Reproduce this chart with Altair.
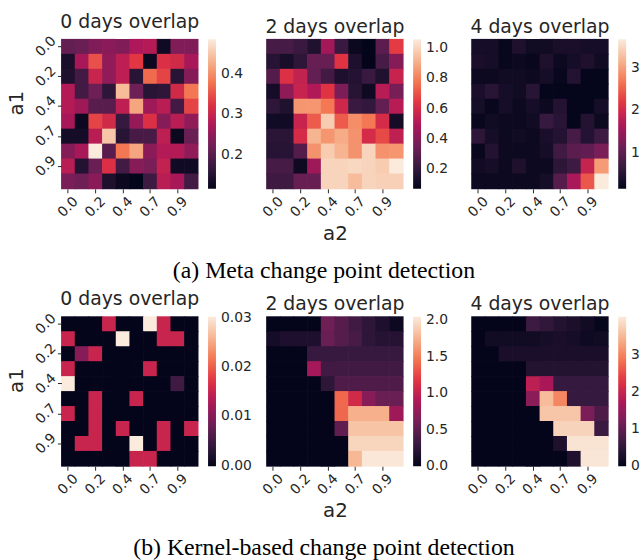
import altair as alt
import numpy as np
import pandas as pd

A_VALUES = ["0.0", "0.1", "0.2", "0.3", "0.4", "0.6", "0.7", "0.8", "0.9", "1.0"]
TICK_LABELS = ["0.0", "0.2", "0.4", "0.7", "0.9"]
ROCKET = ["#03051a", "#35193e", "#701f57", "#ad1759", "#e13342", "#f37651", "#f6b48f", "#faebdd"]

# (a) Meta change point detection
meta_0 = [
    [0.21, 0.215, 0.235, 0.245, 0.235, 0.275, 0.28, 0.13, 0.235, 0.235],
    [0.14, 0.27, 0.35, 0.25, 0.29, 0.33, 0.125, 0.32, 0.31, 0.27],
    [0.145, 0.18, 0.30, 0.25, 0.29, 0.155, 0.37, 0.34, 0.155, 0.24],
    [0.28, 0.18, 0.22, 0.16, 0.44, 0.22, 0.155, 0.16, 0.31, 0.38],
    [0.28, 0.26, 0.20, 0.20, 0.29, 0.42, 0.26, 0.285, 0.18, 0.34],
    [0.27, 0.125, 0.34, 0.31, 0.17, 0.255, 0.32, 0.24, 0.285, 0.25],
    [0.135, 0.135, 0.285, 0.45, 0.155, 0.185, 0.185, 0.29, 0.125, 0.215],
    [0.24, 0.27, 0.485, 0.20, 0.38, 0.42, 0.245, 0.28, 0.28, 0.25],
    [0.285, 0.15, 0.215, 0.32, 0.18, 0.24, 0.23, 0.295, 0.13, 0.13],
    [0.23, 0.22, 0.245, 0.145, 0.125, 0.116, 0.175, 0.285, 0.27, 0.18],
]
meta_2 = [
    [0.25, 0.25, 0.22, 0.15, 0.47, 0.22, 0.09, 0.067, 0.30, 0.65],
    [0.17, 0.13, 0.19, 0.33, 0.33, 0.63, 0.14, 0.07, 0.25, 0.40],
    [0.28, 0.62, 0.55, 0.32, 0.24, 0.14, 0.16, 0.22, 0.15, 0.56],
    [0.12, 0.42, 0.56, 0.50, 0.63, 0.38, 0.17, 0.10, 0.52, 0.37],
    [0.19, 0.15, 0.85, 0.85, 0.78, 0.58, 0.22, 0.20, 0.32, 0.52],
    [0.11, 0.11, 0.56, 0.72, 0.98, 0.72, 0.83, 0.78, 0.60, 0.12],
    [0.18, 0.18, 0.60, 0.92, 0.85, 0.90, 0.84, 0.60, 0.68, 0.54],
    [0.17, 0.17, 0.28, 0.84, 0.98, 0.92, 0.84, 1.00, 0.84, 0.85],
    [0.25, 0.25, 0.10, 0.46, 1.00, 1.00, 1.01, 1.00, 0.98, 1.06],
    [0.23, 0.23, 0.33, 0.33, 1.00, 1.00, 0.94, 1.00, 0.99, 0.99],
]
meta_4 = [
    [0.34, 0.34, 0.20, 0.43, 0.29, 0.29, 0.38, 0.38, 0.34, 0.34],
    [0.38, 0.34, 0.20, 0.24, 0.20, 0.43, 0.24, 0.34, 0.43, 0.29],
    [0.24, 0.24, 0.29, 0.29, 0.24, 0.34, 0.20, 0.47, 0.17, 0.17],
    [0.38, 0.52, 0.34, 0.29, 0.52, 0.17, 0.17, 0.17, 0.17, 0.17],
    [0.34, 0.20, 0.34, 0.24, 0.34, 0.24, 0.47, 0.17, 0.17, 0.34],
    [0.20, 0.29, 0.24, 0.24, 0.29, 0.66, 0.52, 0.17, 0.47, 0.24],
    [0.57, 0.34, 0.24, 0.29, 0.24, 0.38, 0.47, 0.80, 0.47, 0.71],
    [0.20, 0.47, 0.24, 0.24, 0.24, 0.34, 0.75, 0.98, 1.03, 1.24],
    [0.29, 0.34, 0.24, 0.43, 0.24, 0.24, 0.57, 0.71, 1.90, 2.97],
    [0.24, 0.24, 0.24, 0.24, 0.24, 0.34, 0.93, 1.63, 2.44, 3.68],
]

# (b) Kernel-based change point detection
kernel_0 = [
    [0, 0, 0, 0.0151, 0, 0, 0.0302, 0.0151, 0, 0],
    [0.0151, 0, 0, 0, 0.0302, 0, 0, 0.0151, 0.0151, 0],
    [0, 0.0101, 0.0151, 0, 0, 0, 0, 0, 0, 0],
    [0.0151, 0, 0, 0, 0, 0, 0.0151, 0, 0, 0],
    [0.0302, 0, 0, 0, 0, 0, 0, 0, 0.005, 0],
    [0, 0, 0.0151, 0, 0, 0.0151, 0, 0, 0, 0],
    [0.0151, 0, 0.0151, 0, 0, 0, 0, 0, 0, 0],
    [0, 0, 0.0151, 0, 0.0151, 0, 0, 0.0151, 0, 0.0151],
    [0, 0.0151, 0.0151, 0, 0, 0.0302, 0, 0.0151, 0, 0],
    [0, 0, 0, 0, 0, 0.0151, 0.0151, 0, 0, 0],
]
kernel_2 = [
    [0, 0, 0, 0, 0.57, 0.45, 0.35, 0.25, 0.15, 0.05],
    [0.10, 0.15, 0.15, 0.15, 0.55, 0.45, 0.38, 0.25, 0.20, 0.20],
    [0, 0, 0, 0.30, 0.30, 0.30, 0.30, 0.30, 0.30, 0.30],
    [0, 0, 0, 0.84, 0.35, 0.35, 0.35, 0.35, 0.35, 0.35],
    [0, 0, 0, 0, 0.25, 0.42, 0.42, 0.42, 0.42, 0.42],
    [0, 0, 0, 0, 0, 1.40, 1.08, 0.70, 0.55, 0.55],
    [0, 0, 0, 0, 0, 1.40, 1.74, 1.74, 1.74, 0.80],
    [0, 0, 0, 0, 0, 0.50, 1.84, 1.84, 1.84, 1.84],
    [0, 0, 0, 0, 0, 0, 1.93, 1.93, 1.93, 1.93],
    [0, 0, 0, 0, 0, 0, 1.78, 2.03, 2.03, 2.03],
]
kernel_4 = [
    [0, 0, 0, 0, 0.65, 0.53, 0.37, 0.28, 0.16, 0.03],
    [0, 0.16, 0.16, 0.16, 0.16, 0.21, 0.26, 0.21, 0.13, 0.16],
    [0, 0, 0.26, 0.26, 0.26, 0.26, 0.26, 0.26, 0.26, 0.26],
    [0, 0, 0, 0, 0.37, 0.37, 0.37, 0.37, 0.37, 0.37],
    [0, 0, 0, 0, 1.90, 1.70, 0.58, 0.58, 0.58, 0.58],
    [0, 0, 0, 0, 1.40, 3.56, 3.04, 0.58, 0.58, 0.58],
    [0, 0, 0, 0, 0, 3.65, 3.65, 3.65, 1.26, 0.81],
    [0, 0, 0, 0, 0, 0, 3.80, 3.80, 3.80, 0.63],
    [0, 0, 0, 0, 0, 0, 0.32, 3.97, 3.97, 3.97],
    [0, 0, 0, 0, 0, 0, 0, 0.32, 4.00, 4.00],
]

PW, PH = 138, 151
FONT = "DejaVu Sans"
TXT = "#262626"


def frame(grid):
    rows = []
    for i, r in enumerate(grid):
        for j, v in enumerate(r):
            rows.append({"a1": A_VALUES[i], "a2": A_VALUES[j], "value": v})
    return pd.DataFrame(rows)


def panel(grid, title, lo, hi, ticks, fmt, left=False, middle=False, caption=None):
    stops = [float(s) for s in np.linspace(lo, hi, len(ROCKET))]
    cscale = alt.Scale(domain=stops, range=ROCKET, interpolate="rgb")
    x_axis_kw = dict(values=TICK_LABELS, labelAngle=-45, labelAlign="center",
                     labelBaseline="middle", labelPadding=14, tickSize=4, domain=False)
    if middle:
        x_axis = alt.Axis(title="a2", titleY=45, titleBaseline="middle", **x_axis_kw)
    else:
        x_axis = alt.Axis(title=None, **x_axis_kw)
    if left:
        y_enc = alt.Y("a1:O", sort=A_VALUES, scale=alt.Scale(paddingInner=0, paddingOuter=0),
                      axis=alt.Axis(values=TICK_LABELS, labelAngle=-45, labelAlign="center",
                                    labelBaseline="middle", labelPadding=12, tickSize=4,
                                    domain=False, title="a1", titleX=-45, titleY=64,
                                    titleAngle=-90, titleAlign="center", titleBaseline="middle"))
    else:
        y_enc = alt.Y("a1:O", sort=A_VALUES, scale=alt.Scale(paddingInner=0, paddingOuter=0), axis=None)
    heat = alt.Chart(frame(grid)).mark_rect(
        width={"band": 1.05}, height={"band": 1.05}
    ).encode(
        x=alt.X("a2:O", sort=A_VALUES, scale=alt.Scale(paddingInner=0, paddingOuter=0), axis=x_axis),
        y=y_enc,
        color=alt.Color("value:Q", scale=cscale,
                        legend=alt.Legend(type="gradient", values=ticks, format=fmt, title=None,
                                          orient="right", direction="vertical", gradientLength=PH,
                                          gradientThickness=8, offset=10, labelOffset=5,
                                          labelFontSize=14, labelFont=FONT, labelColor=TXT,
                                          gradientStrokeWidth=0)),
    )
    layers = [heat]
    if caption is not None:
        cap = alt.Chart(pd.DataFrame({"c": [caption]})).mark_text(
            font="Liberation Serif", fontSize=24, color="black", align="center", baseline="middle"
        ).encode(text="c:N", x=alt.value(58), y=alt.value(234))
        layers.append(cap)
    return alt.layer(*layers).properties(width=PW, height=PH, title=title)


row_a = alt.hconcat(
    panel(meta_0, "0 days overlap", 0.116, 0.485, [0.2, 0.3, 0.4], ".1f", left=True),
    panel(meta_2, "2 days overlap", 0.067, 1.06, [0.2, 0.4, 0.6, 0.8, 1.0], ".1f", middle=True,
          caption="(a) Meta change point detection"),
    panel(meta_4, "4 days overlap", 0.15, 3.68, [1, 2, 3], "d"),
    spacing=69, bounds="flush",
).resolve_scale(color="independent")

row_b = alt.hconcat(
    panel(kernel_0, "0 days overlap", -0.00006, 0.0302, [0.0, 0.01, 0.02, 0.03], ".2f", left=True),
    panel(kernel_2, "2 days overlap", -0.004, 2.05, [0.0, 0.5, 1.0, 1.5, 2.0], ".1f", middle=True,
          caption="(b) Kernel-based change point detection"),
    panel(kernel_4, "4 days overlap", -0.008, 4.05, [0, 1, 2, 3], "d"),
    spacing=69, bounds="flush",
).resolve_scale(color="independent")

chart = alt.vconcat(row_a, row_b, spacing=280, bounds="flush").resolve_scale(
    color="independent"
).properties(
    padding={"left": 7, "top": 10, "right": 0, "bottom": 0},
    background="white",
).configure_view(stroke=None).configure_axis(
    labelFont=FONT, labelFontSize=14, labelColor=TXT, tickColor=TXT,
    titleFont=FONT, titleFontSize=20, titleFontWeight="normal", titleColor=TXT,
).configure_title(
    font=FONT, fontSize=19, fontWeight="normal", color=TXT, offset=2,
)

chart.save("out.html", embed_options={"renderer": "svg", "actions": False})
